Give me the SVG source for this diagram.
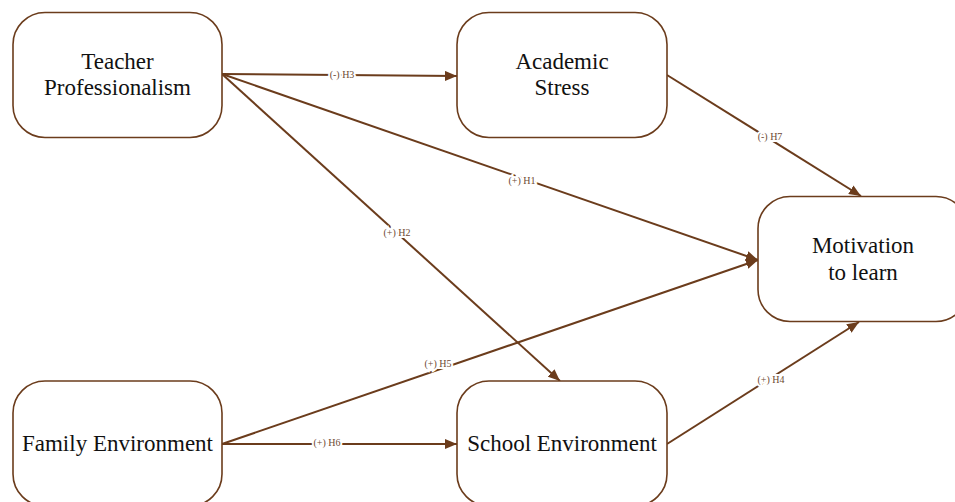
<svg xmlns="http://www.w3.org/2000/svg" width="955" height="502" viewBox="0 0 955 502">
<defs>
<marker id="ah" viewBox="0 0 12 10" refX="12" refY="5" markerWidth="12" markerHeight="10" markerUnits="userSpaceOnUse" orient="auto">
<path d="M0,0 L12,5 L0,10 Z" fill="#6B3C1C"/>
</marker>
<style>
.box{fill:#fff;stroke:#6B3C1C;stroke-width:1.6}
.t{font-family:"Liberation Serif",serif;font-size:23px;fill:#111;text-anchor:middle}
.c{fill:none;stroke:#6B3C1C;stroke-width:2;marker-end:url(#ah)}
.l{font-family:"Liberation Serif",serif;font-size:10px;fill:#6E4A33;text-anchor:middle;stroke:#fff;stroke-width:4;paint-order:stroke;dominant-baseline:middle}
</style>
</defs>
<rect width="955" height="502" fill="#fff"/>
<g id="connectors">
<line class="c" x1="222" y1="74" x2="457" y2="76"/>
<line class="c" x1="222" y1="74" x2="758" y2="260"/>
<line class="c" x1="222" y1="74" x2="560" y2="381"/>
<line class="c" x1="667" y1="75" x2="861" y2="196"/>
<line class="c" x1="222" y1="444" x2="758" y2="260"/>
<line class="c" x1="222" y1="444" x2="457" y2="444"/>
<line class="c" x1="667" y1="444" x2="859" y2="322"/>
<text class="l" x="342" y="76">(-) H3</text>
<text class="l" x="522" y="182">(+) H1</text>
<text class="l" x="397" y="234">(+) H2</text>
<text class="l" x="770" y="138">(-) H7</text>
<text class="l" x="438" y="365">(+) H5</text>
<text class="l" x="327" y="444">(+) H6</text>
<text class="l" x="771" y="381">(+) H4</text>
</g>
<g id="teacher">
<rect class="box" x="13" y="12.5" width="209" height="125" rx="32"/>
<text class="t" x="117.5" y="69">Teacher</text>
<text class="t" x="117.5" y="95">Professionalism</text>
</g>
<g id="academic">
<rect class="box" x="457" y="12.5" width="210" height="125" rx="32"/>
<text class="t" x="562" y="69">Academic</text>
<text class="t" x="562" y="95">Stress</text>
</g>
<g id="motivation">
<rect class="box" x="758" y="196.5" width="210" height="125" rx="32"/>
<text class="t" x="863" y="253">Motivation</text>
<text class="t" x="863" y="280">to learn</text>
</g>
<g id="family">
<rect class="box" x="13" y="381" width="209" height="125" rx="32"/>
<text class="t" x="117.5" y="451">Family Environment</text>
</g>
<g id="school">
<rect class="box" x="457" y="381" width="210" height="125" rx="32"/>
<text class="t" x="562" y="451">School Environment</text>
</g>
</svg>
